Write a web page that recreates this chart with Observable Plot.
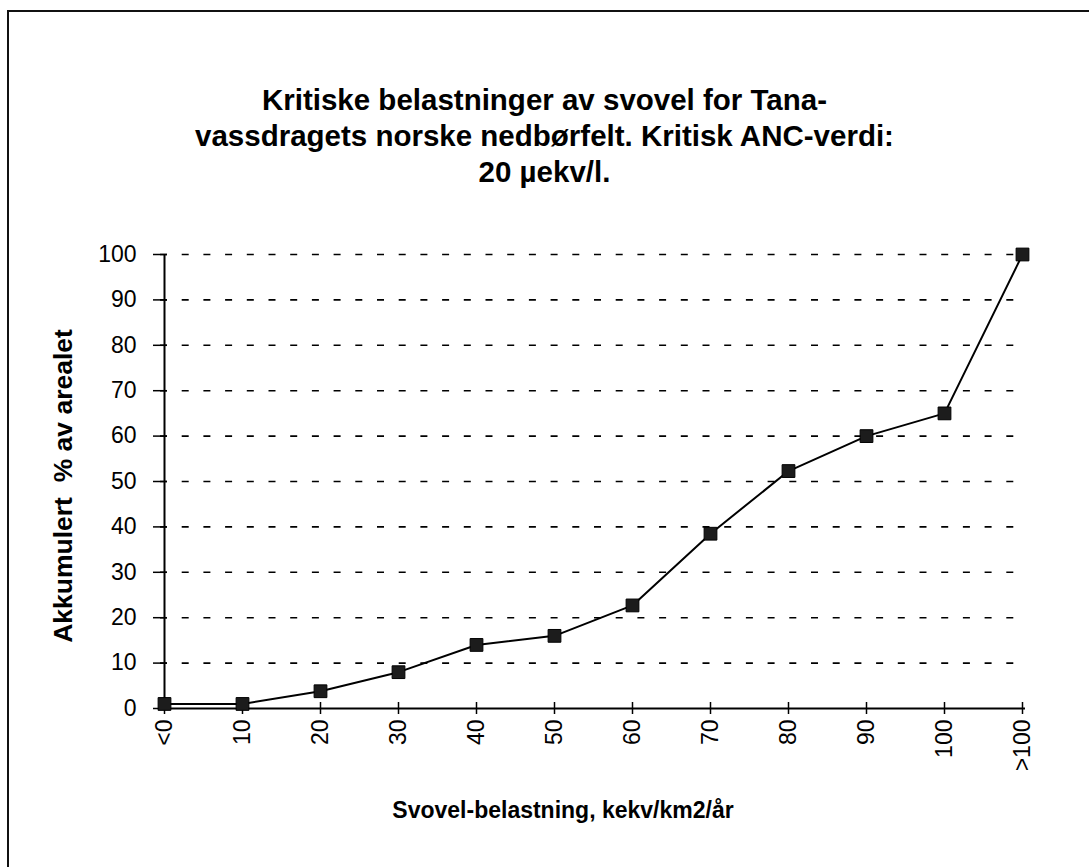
<!DOCTYPE html>
<html>
<head>
<meta charset="utf-8">
<script src="https://cdn.jsdelivr.net/npm/d3@7"></script>
<script src="https://cdn.jsdelivr.net/npm/@observablehq/plot@0.6"></script>
<style>
  html, body { margin: 0; padding: 0; background: #fff; }
  #wrap { position: relative; width: 1089px; height: 867px; overflow: hidden; background: #fff;
          font-family: "Liberation Sans", Arial, Helvetica, sans-serif; color: #000; }
  #frame { position: absolute; left: 7px; top: 10px; width: 1200px; height: 1000px;
           border-left: 2px solid #111; border-top: 2px solid #111; }
  #title { position: absolute; left: 0; top: 82px; width: 1089px; text-align: center;
           font-weight: bold; font-size: 29.5px; line-height: 36px; }
  #ylabel { position: absolute; left: 63px; top: 486px; transform: translate(-50%, -50%) rotate(-90deg);
            font-weight: bold; font-size: 26.5px; white-space: pre; }
  #xlabel { position: absolute; left: 563px; top: 810px; transform: translate(-50%, -50%);
            font-weight: bold; font-size: 23px; white-space: pre; }
  #chart { position: absolute; left: 0; top: 0; }
</style>
</head>
<body>
<div id="wrap">
  <div id="frame"></div>
  <div id="chart"></div>
  <div id="title"></div>
  <div id="ylabel"></div>
  <div id="xlabel"></div>
</div>
<script>
const titleLines = ["Kritiske belastninger av svovel for Tana-", "vassdragets norske nedbørfelt. Kritisk ANC-verdi:", "20 µekv/l."];
const yLabel = "Akkumulert  % av arealet";
const xLabel = "Svovel-belastning, kekv/km2/år";
const categories = ["<0", "10", "20", "30", "40", "50", "60", "70", "80", "90", "100", ">100"];
const values = [1, 1, 3.8, 8, 14, 16, 22.7, 38.5, 52.3, 60, 65, 100];
const yTicks = [0, 10, 20, 30, 40, 50, 60, 70, 80, 90, 100];

document.getElementById("title").innerHTML = titleLines.join("<br>");
document.getElementById("ylabel").textContent = yLabel;
document.getElementById("xlabel").textContent = xLabel;

const data = categories.map((c, i) => ({cat: c, value: values[i]}));

const chart = Plot.plot({
  width: 1089,
  height: 867,
  marginLeft: 160,
  marginRight: 64,
  marginTop: 254,
  marginBottom: 159,
  x: {type: "point", domain: categories, padding: 0},
  y: {domain: [0, 100]},
  style: {fontFamily: "'Liberation Sans', Arial, sans-serif", fontSize: "23px", color: "#000", background: "transparent", overflow: "visible"},
  marks: [
    Plot.ruleY(yTicks.filter(d => d > 0), {stroke: "#000", strokeWidth: 1.6, strokeDasharray: "7,14.7"}),
    Plot.ruleY([0], {stroke: "#000", strokeWidth: 2}),
    Plot.ruleX([categories[0]], {y1: 0, y2: 100, stroke: "#000", strokeWidth: 2}),
    Plot.axisY({ticks: yTicks, tickSize: 14, dx: 7, tickPadding: 17, tickFormat: d => String(d), label: null, fontSize: 23, strokeWidth: 1.5}),
    Plot.axisX({tickSize: 12, dy: -6, tickPadding: 5, tickRotate: -90, label: null, fontSize: 23, strokeWidth: 1.5}),
    Plot.line(data, {x: "cat", y: "value", stroke: "#000", strokeWidth: 2}),
    Plot.dot(data, {x: "cat", y: "value", symbol: "square", r: 7.2, fill: "#1c1c1c", stroke: "#000", strokeWidth: 1})
  ]
});
document.getElementById("chart").appendChild(chart);
</script>
</body>
</html>
